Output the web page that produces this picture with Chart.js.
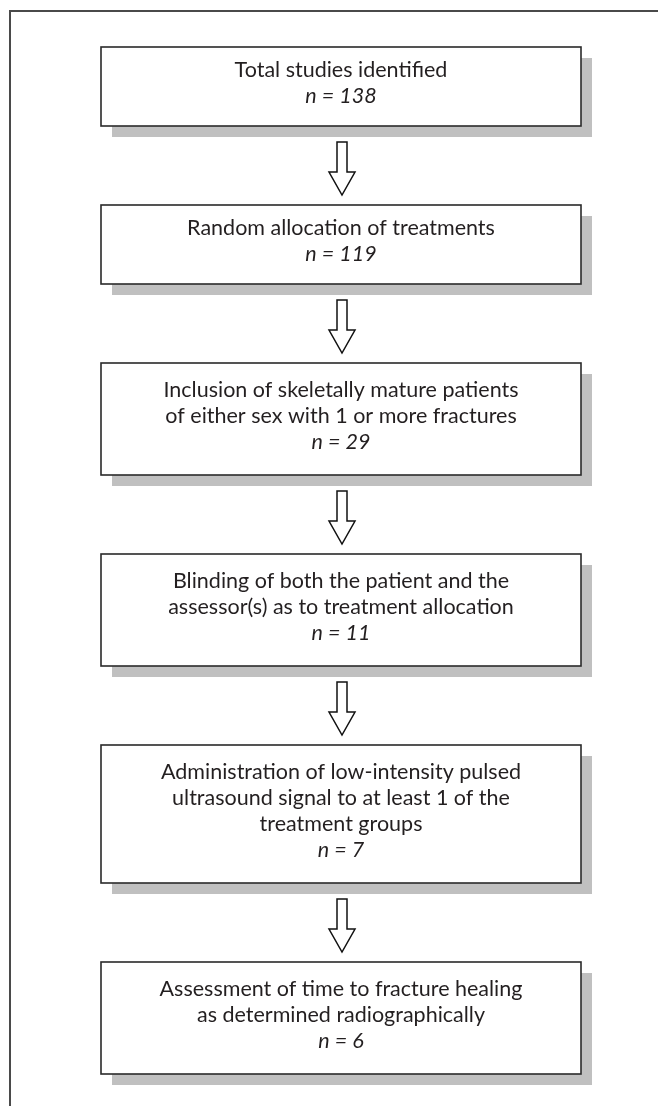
<!DOCTYPE html>
<html>
<head>
<meta charset="utf-8">
<script src="https://cdn.jsdelivr.net/npm/chart.js@4"></script>
<style>
  body { margin: 0; background: #ffffff; }
  #wrap { width: 658px; height: 1106px; }
</style>
</head>
<body>
<div id="wrap"><canvas id="FlowChart" width="658" height="1106"></canvas></div>
<script>
// ---------------- DATA -------------------
const StepLabels = [
    ['Total studies identified'],
    ['Random allocation of treatments'],
    ['Inclusion of skeletally mature patients', 'of either sex with 1 or more fractures'],
    ['Blinding of both the patient and the', 'assessor(s) as to treatment allocation'],
    ['Administration of low-intensity pulsed', 'ultrasound signal to at least 1 of the', 'treatment groups'],
    ['Assessment of time to fracture healing', 'as determined radiographically']
]
const StepCounts = [138, 119, 29, 11, 7, 6]

// ---------------- LAYOUT -------------------
const BoxLeft = 101, BoxRight = 581, FirstTop = 47, Gap = 79
const BoxHeightByLines = {2: 79, 3: 112, 4: 138}
const LineHeight = 26
const ShadowOffset = 11
const Font = 'Lato, "Open Sans", sans-serif'

function BuildSteps() {
    let top = FirstTop
    let steps = []
    StepLabels.forEach((lines, i) => {
        const all = lines.concat(['n = ' + StepCounts[i]])
        const h = BoxHeightByLines[all.length]
        steps.push({lines: all, top: top, bottom: top + h})
        top = top + h + Gap
    })
    return steps
}

const FlowPlugin = {
    id: 'flow',
    afterDraw(chart) {
        const ctx = chart.ctx
        const xs = chart.scales.x, ys = chart.scales.y
        const X = v => xs.getPixelForValue(v)
        const Y = v => ys.getPixelForValue(v)
        const steps = BuildSteps()
        ctx.save()

        // outer frame
        ctx.strokeStyle = '#4a4a4a'
        ctx.lineWidth = 2
        ctx.beginPath()
        ctx.moveTo(X(10), Y(1106))
        ctx.lineTo(X(10), Y(11))
        ctx.lineTo(X(658), Y(11))
        ctx.stroke()

        const cx = (BoxLeft + BoxRight) / 2 + 1
        steps.forEach((s, i) => {
            // shadow
            ctx.fillStyle = '#c0c0c0'
            ctx.fillRect(X(BoxLeft + ShadowOffset), Y(s.top + ShadowOffset), X(BoxRight) - X(BoxLeft), Y(s.bottom) - Y(s.top))
            // box
            ctx.fillStyle = '#ffffff'
            ctx.fillRect(X(BoxLeft), Y(s.top), X(BoxRight) - X(BoxLeft), Y(s.bottom) - Y(s.top))
            ctx.strokeStyle = '#2a2a2a'
            ctx.lineWidth = 1.6
            ctx.strokeRect(X(BoxLeft), Y(s.top), X(BoxRight) - X(BoxLeft), Y(s.bottom) - Y(s.top))

            // text
            const mid = (s.top + s.bottom) / 2 - 3
            const start = mid - (s.lines.length - 1) * LineHeight / 2
            ctx.fillStyle = '#231f20'
            ctx.textAlign = 'center'
            ctx.textBaseline = 'middle'
            s.lines.forEach((line, j) => {
                const last = j == s.lines.length - 1
                ctx.font = (last ? 'italic ' : '') + '21.5px ' + Font
                ctx.fillText(line, X(cx - 1), Y(start + j * LineHeight))
            })

            // arrow to next box
            if (i < steps.length - 1) {
                const y0 = s.bottom + 16
                const y1 = steps[i + 1].top - 10
                const yh = y1 - 23
                ctx.beginPath()
                ctx.moveTo(X(cx - 5), Y(y0))
                ctx.lineTo(X(cx + 5), Y(y0))
                ctx.lineTo(X(cx + 5), Y(yh))
                ctx.lineTo(X(cx + 13), Y(yh))
                ctx.lineTo(X(cx), Y(y1))
                ctx.lineTo(X(cx - 13), Y(yh))
                ctx.lineTo(X(cx - 5), Y(yh))
                ctx.closePath()
                ctx.fillStyle = '#ffffff'
                ctx.fill()
                ctx.strokeStyle = '#111111'
                ctx.lineWidth = 1.5
                ctx.stroke()
            }
        })
        ctx.restore()
    }
}

new Chart(document.getElementById('FlowChart').getContext('2d'), {
    type: 'scatter',
    data: {
        datasets: [{
            data: StepCounts.map((n, i) => ({x: 341, y: i})),
            pointRadius: 0,
            showLine: false
        }]
    },
    options: {
        responsive: false,
        animation: false,
        layout: {padding: 0},
        plugins: {
            legend: {display: false},
            tooltip: {enabled: false}
        },
        scales: {
            x: {display: false, min: 0, max: 658},
            y: {display: false, min: 0, max: 1106, reverse: true}
        }
    },
    plugins: [FlowPlugin]
})
</script>
</body>
</html>
